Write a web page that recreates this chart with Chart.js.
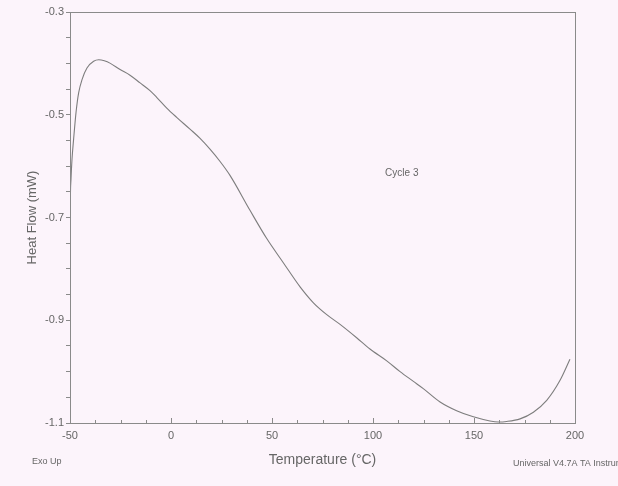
<!DOCTYPE html>
<html>
<head>
<meta charset="utf-8">
<script src="https://cdn.jsdelivr.net/npm/chart.js@4/dist/chart.umd.min.js"></script>
<style>
  html, body { margin: 0; padding: 0; background: #fcf4fb; }
  #wrap { width: 618px; height: 486px; position: relative; }
</style>
</head>
<body>
<div id="wrap"><canvas id="c"></canvas></div>
<script>
// DSC trace, third cycle
const temperature = [
  -50, -49.85, -49.5, -49, -48.2, -47, -45.7, -44, -41.6, -38.3, -35.8, -33, -30,
  -25.2, -20.3, -15.3, -10.4, -7.1, -2.1, 2.8, 9.4, 14.4, 19.3, 24.3, 29.2,
  39.1, 47.4, 55.6, 63.9, 70.5, 77.1, 83.7, 91.9, 98.5, 106.8, 113.4, 120, 124.9,
  133.2, 141.4, 149.7, 157.9, 162, 166.2, 172.8, 179.4, 186, 192.6, 197.5
]
const heatFlow = [
  -0.785, -0.676, -0.625, -0.586, -0.547, -0.495, -0.457, -0.431, -0.409, -0.396, -0.393, -0.395, -0.400,
  -0.412, -0.423, -0.438, -0.453, -0.466, -0.487, -0.505, -0.528, -0.546, -0.567, -0.591, -0.618,
  -0.686, -0.741, -0.788, -0.835, -0.866, -0.889, -0.908, -0.934, -0.956, -0.979, -1.000, -1.019, -1.033,
  -1.059, -1.076, -1.088, -1.096, -1.098, -1.097, -1.092, -1.079, -1.056, -1.017, -0.976
]
const xMajor = [-50, 0, 50, 100, 150, 200]
const yMajor = [-0.3, -0.5, -0.7, -0.9, -1.1]

const textColor = '#666'
const lineColor = '#8a8a8a'
const fontFamily = '"Liberation Sans", Arial, sans-serif'

const isMajor = (v, list) => list.some(m => Math.abs(m - v) < 1e-6)

// frame, inward x ticks and the loose annotations
const decor = {
  id: 'decor',
  afterDraw (chart) {
    const { ctx, chartArea: a, scales } = chart
    ctx.save()
    ctx.strokeStyle = lineColor
    ctx.lineWidth = 1
    ctx.strokeRect(a.left + 0.5, a.top + 0.5, a.right - a.left, a.bottom - a.top)

    ctx.beginPath()
    for (const t of scales.x.ticks) {
      const px = Math.round(scales.x.getPixelForValue(t.value)) + 0.5
      const len = isMajor(t.value, xMajor) ? 5 : 3
      ctx.moveTo(px, a.bottom)
      ctx.lineTo(px, a.bottom - len)
    }
    ctx.stroke()

    ctx.fillStyle = textColor
    ctx.font = '9px ' + fontFamily
    ctx.textBaseline = 'middle'
    ctx.textAlign = 'left'
    ctx.fillText('Exo Up', 32, 462)
    ctx.fillText('Universal V4.7A TA Instruments', 513, 464)
    ctx.font = '10px ' + fontFamily
    ctx.fillText('Cycle 3', scales.x.getPixelForValue(106), scales.y.getPixelForValue(-0.613))
    ctx.restore()
  }
}

new Chart(document.getElementById('c'), {
  type: 'line',
  data: {
    datasets: [{
      data: temperature.map((t, i) => ({ x: t, y: heatFlow[i] })),
      borderColor: '#7d7d7d',
      borderWidth: 1.1,
      pointRadius: 0,
      cubicInterpolationMode: 'monotone',
      fill: false
    }]
  },
  options: {
    responsive: true,
    maintainAspectRatio: false,
    animation: false,
    layout: { padding: { top: 12, right: 43, left: 0, bottom: 0 } },
    plugins: { legend: { display: false }, tooltip: { enabled: false } },
    scales: {
      x: {
        type: 'linear',
        min: -50,
        max: 200,
        afterFit: s => { s.height = 63 },
        border: { color: lineColor },
        grid: { drawOnChartArea: false, drawTicks: false },
        ticks: {
          stepSize: 12.5,
          autoSkip: false,
          maxRotation: 0,
          padding: 6,
          color: textColor,
          font: { family: fontFamily, size: 11 },
          callback: v => isMajor(v, xMajor) ? String(v) : ''
        },
        title: {
          display: true,
          text: 'Temperature (°C)',
          color: textColor,
          font: { family: fontFamily, size: 14 },
          padding: { top: 4, bottom: 17 }
        }
      },
      y: {
        type: 'linear',
        min: -1.1,
        max: -0.3,
        afterFit: s => { s.width = 70 },
        border: { color: lineColor },
        grid: { drawOnChartArea: false, drawTicks: true, tickLength: 4, color: lineColor },
        ticks: {
          stepSize: 0.05,
          autoSkip: false,
          padding: 2,
          color: textColor,
          font: { family: fontFamily, size: 11 },
          callback: v => isMajor(v, yMajor) ? String(Math.round(v * 10) / 10) : ''
        },
        title: {
          display: true,
          text: 'Heat Flow (mW)',
          color: textColor,
          font: { family: fontFamily, size: 13 },
          padding: { top: 25, bottom: 0 }
        }
      }
    }
  },
  plugins: [decor]
})
</script>
</body>
</html>
